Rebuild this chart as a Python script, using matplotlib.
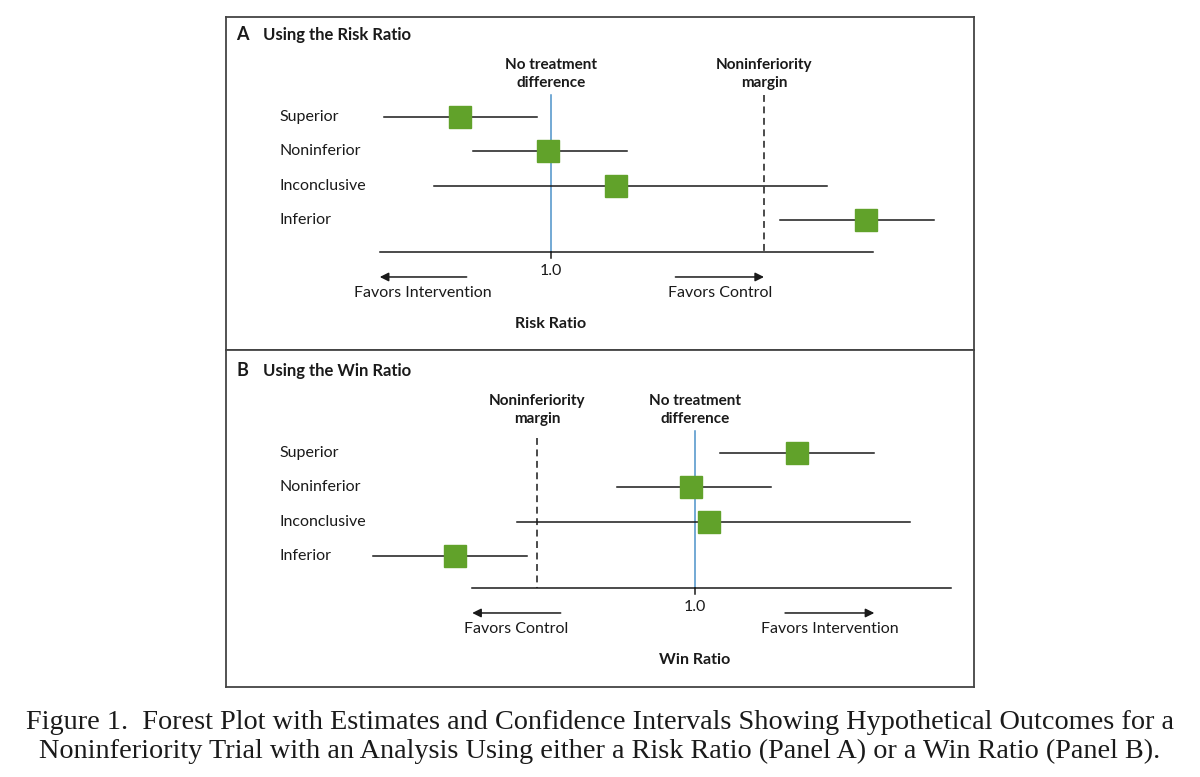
import matplotlib
matplotlib.use("Agg")
import matplotlib.pyplot as plt
from matplotlib import transforms

plt.rcParams["font.family"] = ["Lato", "DejaVu Sans"]

rows = ["Superior", "Noninferior", "Inconclusive", "Inferior"]

# panel A: risk ratio
risk_est = [0.893, 0.996, 1.076, 1.370]
risk_lo = [0.804, 0.908, 0.863, 1.269]
risk_hi = [0.984, 1.089, 1.324, 1.450]
risk_margin = 1.25
risk_axis = (0.799, 1.378)
risk_arrows = [(0.901, 0.799), (1.146, 1.25)]
risk_favors = ["Favors Intervention", "Favors Control"]

# panel B: win ratio
win_est = [1.129, 0.995, 1.018, 0.696]
win_lo = [1.032, 0.901, 0.775, 0.592]
win_hi = [1.227, 1.096, 1.272, 0.787]
win_margin = 0.80
win_axis = (0.718, 1.324)
win_arrows = [(0.830, 0.718), (1.114, 1.227)]
win_favors = ["Favors Control", "Favors Intervention"]

GREEN = "#61a22a"
BLUE = "#4d92c9"
INK = "#1a1a1a"
W, H = 1200, 777


def draw_panel(ax, letter, title, est, lo, hi, margin, axis_rng, arrows,
               favors, xlabel, xlim, ylim, margin_top):
    ax.set_xlim(*xlim)
    ax.set_ylim(*ylim)
    ax.set_xticks([])
    ax.set_yticks([])
    for s in ax.spines.values():
        s.set_color("#444444")
        s.set_linewidth(1.3)

    ypos = list(range(len(rows)))
    trans = transforms.blended_transform_factory(ax.transAxes, ax.transData)

    # reference lines
    ax.plot([1.0, 1.0], [-0.64, 3.93], color=BLUE, lw=1.1, zorder=1)
    ax.plot([margin, margin], [margin_top, 3.93], color=INK, lw=1.1,
            ls=(0, (4.5, 3)), zorder=1)

    # estimates and intervals
    for y, e, l, h, name in zip(ypos, est, lo, hi, rows):
        ax.plot([l, h], [y, y], color=INK, lw=1.1, zorder=2)
        ax.plot(e, y, marker="s", ms=16, color=GREEN, mec=GREEN, zorder=3)
        ax.text(0.072, y, name, transform=trans, ha="left", va="center",
                fontsize=11.5, color=INK)

    # axis line with 1.0 tick
    ax.plot(list(axis_rng), [3.93, 3.93], color=INK, lw=1.1)
    ax.plot([1.0, 1.0], [3.93, 4.12], color=INK, lw=1.1)
    ax.text(1.0, 4.48, "1.0", ha="center", va="center", fontsize=11.5, color=INK)

    for (tail, head), lab in zip(arrows, favors):
        ax.annotate("", xy=(head, 4.66), xytext=(tail, 4.66),
                    arrowprops=dict(arrowstyle="-|>", color=INK, lw=1.1,
                                    mutation_scale=13, shrinkA=0, shrinkB=0))
        ax.text((tail + head) / 2, 5.12, lab, ha="center", va="center",
                fontsize=11.5, color=INK)

    ax.text(1.0, 6.02, xlabel, ha="center", va="center", fontsize=11.5,
            fontweight="bold", color=INK)

    # headers
    ax.text(1.0, -0.8, "No treatment\ndifference", ha="center", va="bottom",
            fontsize=11, fontweight="bold", color=INK, linespacing=1.3)
    ax.text(margin, -0.8, "Noninferiority\nmargin", ha="center", va="bottom",
            fontsize=11, fontweight="bold", color=INK, linespacing=1.3)

    ax.text(0.014, -2.39, letter, transform=trans, ha="left", va="center",
            fontsize=13, fontweight="bold", color=INK)
    ax.text(0.05, -2.39, title, transform=trans, ha="left", va="center",
            fontsize=12, fontweight="bold", color=INK)


fig = plt.figure(figsize=(W / 100, H / 100), dpi=100)

axA = fig.add_axes([226 / W, 1 - 350 / H, 748 / W, 333 / H])
draw_panel(axA, "A", "Using the Risk Ratio", risk_est, risk_lo, risk_hi,
           risk_margin, risk_axis, risk_arrows, risk_favors, "Risk Ratio",
           (0.6185, 1.4965), (6.787, -2.913), -0.64)

axB = fig.add_axes([226 / W, 1 - 687 / H, 748 / W, 337 / H])
draw_panel(axB, "B", "Using the Win Ratio", win_est, win_lo, win_hi,
           win_margin, win_axis, win_arrows, win_favors, "Win Ratio",
           (0.4063, 1.3532), (6.816, -3.0), -0.44)

fig.text(0.5, 1 - 737 / H,
         "Figure 1.  Forest Plot with Estimates and Confidence Intervals Showing Hypothetical Outcomes for a\n"
         "Noninferiority Trial with an Analysis Using either a Risk Ratio (Panel A) or a Win Ratio (Panel B).",
         ha="center", va="center", fontsize=20.3, family=["Liberation Serif", "DejaVu Serif"],
         color=INK, linespacing=1.18)

fig.savefig("out.png", dpi=100)
